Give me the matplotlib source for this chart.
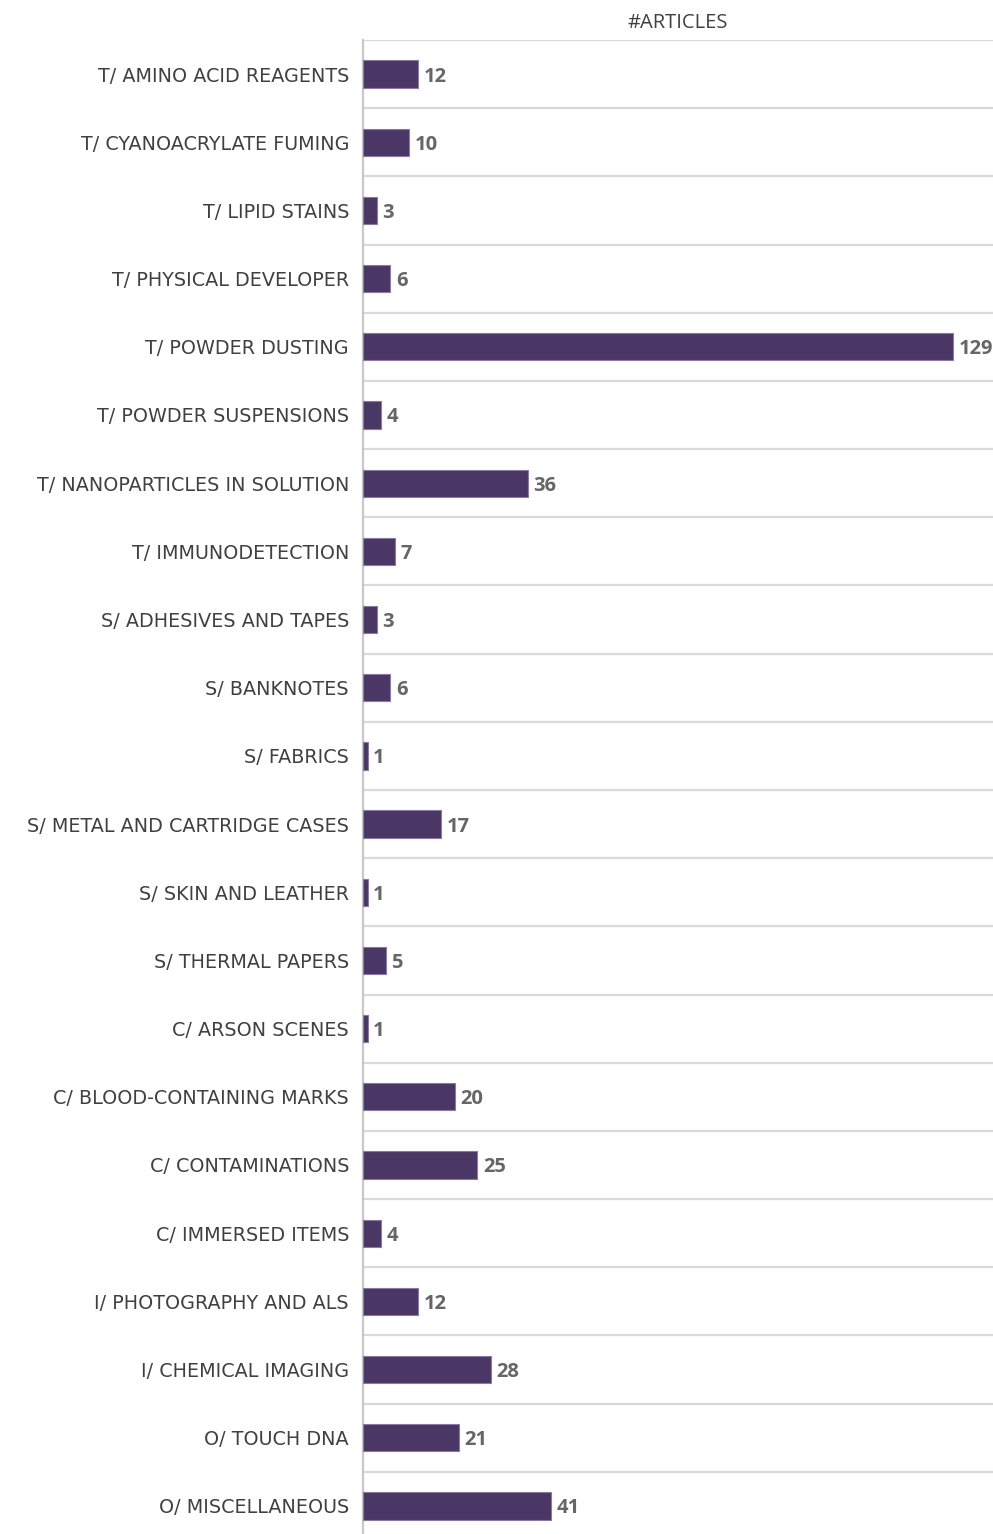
import matplotlib
matplotlib.use("Agg")
import matplotlib.pyplot as plt
import numpy as np

categories = [
    "T/ AMINO ACID REAGENTS",
    "T/ CYANOACRYLATE FUMING",
    "T/ LIPID STAINS",
    "T/ PHYSICAL DEVELOPER",
    "T/ POWDER DUSTING",
    "T/ POWDER SUSPENSIONS",
    "T/ NANOPARTICLES IN SOLUTION",
    "T/ IMMUNODETECTION",
    "S/ ADHESIVES AND TAPES",
    "S/ BANKNOTES",
    "S/ FABRICS",
    "S/ METAL AND CARTRIDGE CASES",
    "S/ SKIN AND LEATHER",
    "S/ THERMAL PAPERS",
    "C/ ARSON SCENES",
    "C/ BLOOD-CONTAINING MARKS",
    "C/ CONTAMINATIONS",
    "C/ IMMERSED ITEMS",
    "I/ PHOTOGRAPHY AND ALS",
    "I/ CHEMICAL IMAGING",
    "O/ TOUCH DNA",
    "O/ MISCELLANEOUS",
]
articles = [12, 10, 3, 6, 129, 4, 36, 7, 3, 6, 1, 17, 1, 5, 1, 20, 25, 4, 12, 28, 21, 41]
title = "#ARTICLES"

W, H = 993, 1534
fig = plt.figure(figsize=(W / 100, H / 100), dpi=100)
left = 363 / W
top = 1 - 40 / H
bottom = -6 / H
ax = fig.add_axes([left, bottom, 1 - left, top - bottom])

n = len(categories)
y = np.arange(n)
bar_color = "#4a3766"
ax.barh(y, articles, height=0.4, color=bar_color, edgecolor="#8a7aa3", linewidth=0.8, zorder=3)

ax.set_ylim(n - 0.5, -0.5)
ax.set_xlim(0, 137.7)

# horizontal separators between categories
for b in np.arange(-0.5, n, 1.0):
    ax.axhline(b, color="#d9d9d9", lw=1.6, zorder=1)

for s in ["top", "right", "bottom"]:
    ax.spines[s].set_visible(False)
ax.spines["left"].set_color("#c8c8c8")
ax.spines["left"].set_linewidth(1.6)

ax.set_xticks([])
ax.set_yticks(y)
ax.set_yticklabels(categories, fontfamily="DejaVu Sans", fontsize=13.8, color="#404040")
ax.tick_params(axis="y", length=0, pad=10)

for yi, v in zip(y, articles):
    ax.annotate(str(v), (v, yi), xytext=(4, 0), textcoords="offset points",
                va="center_baseline", ha="left", fontsize=14.5, fontweight="bold",
                color="#666666", fontfamily="Open Sans")

fig.text((363 + 993) / 2 / W, 1 - 23 / H, title, ha="center", va="center",
         fontsize=14.5, color="#404040", fontfamily="Open Sans")

fig.savefig("out.png", dpi=100)
